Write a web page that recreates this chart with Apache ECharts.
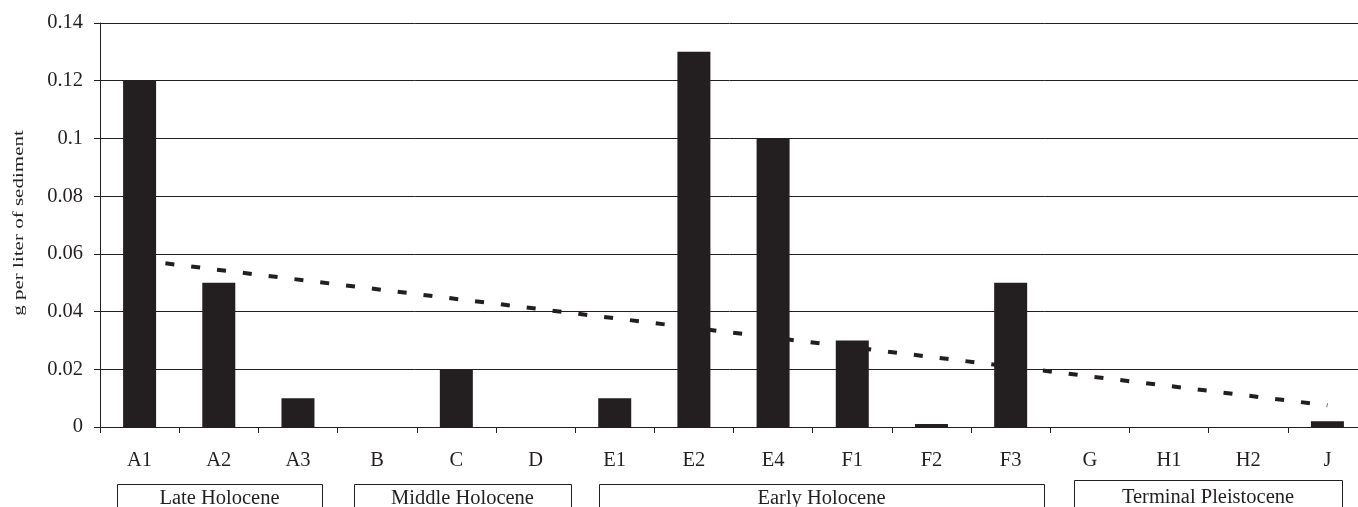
<!DOCTYPE html>
<html>
<head>
<meta charset="utf-8">
<script src="https://cdn.jsdelivr.net/npm/echarts@6/dist/echarts.min.js"></script>
<style>
html,body{margin:0;padding:0;background:#fff;}
#chart{width:1358px;height:507px;}
</style>
</head>
<body>
<div id="chart"></div>
<script>
// ---- data ----
const categories = ['A1','A2','A3','B','C','D','E1','E2','E4','F1','F2','F3','G','H1','H2','J'];
const values = [0.12, 0.05, 0.01, 0, 0.02, 0, 0.01, 0.13, 0.10, 0.03, 0.001, 0.05, 0, 0, 0, 0.002];
const trendStart = 0.0578; // linear trendline value at A1
const trendEnd = 0.0075;   // linear trendline value at J
const yTicks = [0, 0.02, 0.04, 0.06, 0.08, 0.1, 0.12, 0.14];
const groupNames = ['Late Holocene', 'Middle Holocene', 'Early Holocene', 'Terminal Pleistocene'];
const yAxisTitle = 'g per liter of sediment';

// ---- layout (pixels) ----
const groupBoxes = [
  {x1: 117, x2: 322, top: 484, textY: 499},
  {x1: 354, x2: 571, top: 484, textY: 499},
  {x1: 599, x2: 1044, top: 484, textY: 499},
  {x1: 1074, x2: 1342, top: 480, textY: 498}
];

const trendData = categories.map((c, i) => i === 0 ? trendStart : (i === categories.length - 1 ? trendEnd : null));
const FONT = '"Liberation Serif", "Times New Roman", serif';
const INK = '#231f20';
const FS = 20.5;

const chart = echarts.init(document.getElementById('chart'), null, {renderer: 'canvas'});

const graphic = [];
groupBoxes.forEach((b, i) => {
  graphic.push({
    type: 'rect',
    shape: {x: b.x1 + 0.5, y: b.top + 0.5, width: b.x2 - b.x1, height: 60},
    style: {fill: '#fff', stroke: INK, lineWidth: 1},
    silent: true
  });
  graphic.push({
    type: 'text',
    x: (b.x1 + b.x2) / 2,
    y: b.textY,
    style: {
      text: groupNames[i],
      font: FS + 'px ' + FONT,
      fill: INK,
      align: 'center',
      verticalAlign: 'middle'
    },
    silent: true
  });
});
// rotated y-axis title
graphic.push({
  type: 'text',
  x: 19,
  y: 223,
  rotation: Math.PI / 2,
  scaleX: 1.45,
  scaleY: 1,
  style: {
    text: yAxisTitle,
    font: '14.5px ' + FONT,
    fill: INK,
    align: 'center',
    verticalAlign: 'middle'
  },
  silent: true
});

chart.setOption({
  animation: false,
  backgroundColor: '#fff',
  grid: {left: 100, right: -9, top: 23, bottom: 80, containLabel: false, outerBoundsMode: 'none'},
  xAxis: {
    type: 'category',
    data: categories,
    boundaryGap: true,
    axisLine: {lineStyle: {color: INK, width: 1}},
    axisTick: {show: true, length: 6, inside: false, alignWithLabel: false, lineStyle: {color: INK}},
    axisLabel: {fontFamily: FONT, fontSize: FS, color: INK, margin: 23, interval: 0},
    splitLine: {show: false}
  },
  yAxis: {
    type: 'value',
    min: yTicks[0],
    max: yTicks[yTicks.length - 1],
    interval: yTicks[1] - yTicks[0],
    axisLine: {show: true, lineStyle: {color: INK, width: 1}},
    axisTick: {show: true, length: 6, lineStyle: {color: INK}},
    axisLabel: {fontFamily: FONT, fontSize: FS, color: INK, margin: 17,
      formatter: v => String(parseFloat(v.toFixed(2)))},
    splitLine: {show: true, lineStyle: {color: INK, width: 1, type: 'solid'}}
  },
  series: [
    {
      type: 'bar',
      data: values,
      barWidth: 33,
      itemStyle: {color: INK},
      z: 2
    },
    {
      type: 'line',
      data: trendData,
      connectNulls: true,
      symbol: 'none',
      lineStyle: {color: INK, width: 4, type: [9, 17], cap: 'butt'},
      z: 3
    }
  ],
  graphic: graphic
});
</script>
</body>
</html>
